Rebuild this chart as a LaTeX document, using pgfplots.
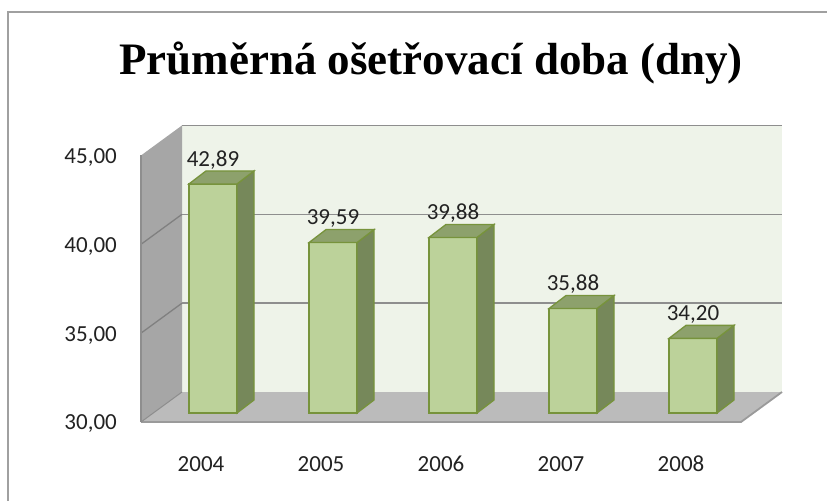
\documentclass[border=0pt]{standalone}
\usepackage{pgfplots}
\usepackage{pgfplotstable}
\pgfplotsset{compat=1.18}
\usepackage{fontspec}
\setmainfont{Carlito}
\newfontfamily\titlefont{Liberation Serif}

\definecolor{backwall}{HTML}{EEF3E9}
\definecolor{gridc}{HTML}{8E8E8E}
\definecolor{leftwall}{HTML}{A6A6A6}
\definecolor{floorc}{HTML}{BBBBBB}
\definecolor{flooredge}{HTML}{9A9A9A}
\definecolor{barfront}{HTML}{BCD29A}
\definecolor{barside}{HTML}{76885A}
\definecolor{bartop}{HTML}{8DA16C}
\definecolor{barborder}{HTML}{77933C}
\definecolor{framec}{HTML}{A0A0A0}
\definecolor{textc}{HTML}{222222}

\pgfplotstableread{
x v
0 42.89
1 39.59
2 39.88
3 35.88
4 34.20
}\datatable

% 3D extrusion (side and top faces) of a bar, drawn at the top centre of its front face
% \hval = bar height above the floor (value - 30), in data units
\pgfdeclareplotmark{bar3d}{%
  \pgfmathsetmacro\bh{\hval*17.77}%
  \pgfpathmoveto{\pgfpoint{24pt}{0pt}}%
  \pgfpathlineto{\pgfpoint{41pt}{13pt}}%
  \pgfpathlineto{\pgfpoint{41pt}{(13-\bh)*1pt}}%
  \pgfpathlineto{\pgfpoint{24pt}{-\bh*1pt}}%
  \pgfpathclose
  \pgfsetfillcolor{barside}\pgfsetstrokecolor{barborder}%
  \pgfusepath{fill,stroke}%
  \pgfpathmoveto{\pgfpoint{-24pt}{0pt}}%
  \pgfpathlineto{\pgfpoint{24pt}{0pt}}%
  \pgfpathlineto{\pgfpoint{41pt}{13pt}}%
  \pgfpathlineto{\pgfpoint{-7pt}{13pt}}%
  \pgfpathclose
  \pgfsetfillcolor{bartop}\pgfsetstrokecolor{barborder}%
  \pgfusepath{fill,stroke}%
}

\begin{document}
\begin{tikzpicture}[x=1pt,y=1pt]
\path (0,0) rectangle (827,501);
\draw[framec, line width=2pt] (8,0) -- (8,489) -- (827,489);
\node[font=\titlefont\bfseries\fontsize{45}{50}\selectfont, text=black] at (431,438) {Průměrná ošetřovací doba (dny)};
\begin{axis}[
  at={(153pt,88pt)}, anchor=south west,
  x=120pt, y=17.77pt,
  xmin=-0.5, xmax=4.5, ymin=0, ymax=15,
  clip=false,
  axis line style={draw=none},
  major tick length=0pt,
  xtick={0,1,2,3,4},
  xticklabels={2004,2005,2006,2007,2008},
  ytick={0,5,10,15},
  yticklabels={{30,00},{35,00},{40,00},{45,00}},
  xticklabel style={anchor=center, inner sep=0pt, yshift=-51pt, xshift=-12pt, font=\fontsize{23}{26}\selectfont, text=textc},
  yticklabel style={anchor=east, inner sep=0pt, xshift=-36pt, yshift=-11pt, font=\fontsize{23}{26}\selectfont, text=textc},
]
% back wall
\fill[backwall] ([shift={(29pt,21pt)}]axis cs:-0.5,0) rectangle ([shift={(29pt,21pt)}]axis cs:4.5,15);
\pgfplotsinvokeforeach{5,10,15}{
  \draw[gridc, line width=1.6pt] ([shift={(29pt,21pt)}]axis cs:-0.5,#1) -- ([shift={(29pt,21pt)}]axis cs:4.5,#1);
}
% left wall
\fill[leftwall] ([shift={(-12pt,-9pt)}]axis cs:-0.5,0) -- ([shift={(-12pt,-9pt)}]axis cs:-0.5,15)
  -- ([shift={(29pt,21pt)}]axis cs:-0.5,15) -- ([shift={(29pt,21pt)}]axis cs:-0.5,0) -- cycle;
\pgfplotsinvokeforeach{5,10}{
  \draw[gridc!90!black, line width=1.3pt] ([shift={(-12pt,-9pt)}]axis cs:-0.5,#1) -- ([shift={(29pt,21pt)}]axis cs:-0.5,#1);
}
\draw[gridc, line width=1.2pt] ([shift={(-12pt,-9pt)}]axis cs:-0.5,0) -- ([shift={(-12pt,-9pt)}]axis cs:-0.5,15);
% floor
\fill[floorc] ([shift={(-12pt,-9pt)}]axis cs:-0.5,0) -- ([shift={(-12pt,-9pt)}]axis cs:4.5,0)
  -- ([shift={(29pt,21pt)}]axis cs:4.5,0) -- ([shift={(29pt,21pt)}]axis cs:-0.5,0) -- cycle;
\draw[flooredge, line width=1.8pt] ([shift={(-12pt,-9pt)}]axis cs:-0.5,0) -- ([shift={(-12pt,-9pt)}]axis cs:4.5,0)
  -- ([shift={(29pt,21pt)}]axis cs:4.5,0);
\draw[leftwall!85!black, line width=1pt] ([shift={(-12pt,-9pt)}]axis cs:-0.5,0) -- ([shift={(29pt,21pt)}]axis cs:-0.5,0);

% bars: front faces
\addplot[ybar, bar width=48pt, bar shift=0pt, fill=barfront, draw=barborder, line width=1.3pt,
  y filter/.expression={y-30},
  point meta=explicit,
  nodes near coords={\pgfmathprintnumber[fixed,fixed zerofill,precision=2,use comma,assume math mode=true]{\pgfplotspointmeta}},
  every node near coord/.append style={anchor=center, inner sep=0pt, yshift=24pt, font=\fontsize{23}{26}\selectfont, text=textc},
] table[x=x, y=v, meta=v] {\datatable};
% bars: side and top faces
\addplot[only marks, mark=bar3d, line width=1.3pt,
  y filter/.expression={y-30},
  visualization depends on={y \as \hval},
] table[x=x, y=v] {\datatable};
\end{axis}
\pgfresetboundingbox
\path[use as bounding box] (0,0) rectangle (827,501);
\end{tikzpicture}
\end{document}
